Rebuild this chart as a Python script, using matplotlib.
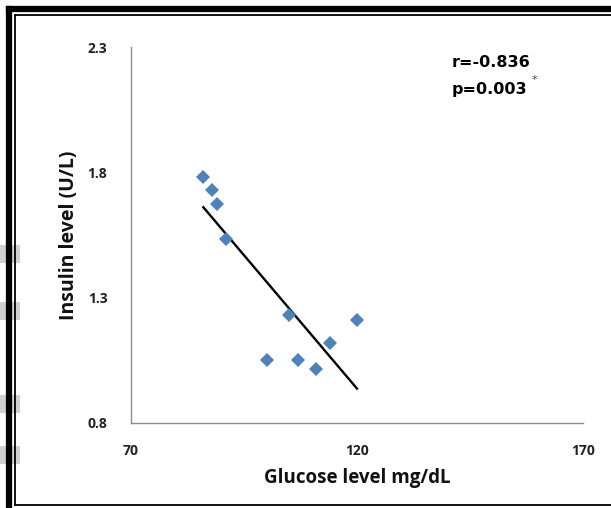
import matplotlib.pyplot as plt
import numpy as np
from matplotlib.patches import Rectangle
from matplotlib.lines import Line2D

# data
glucose = [86, 88, 89, 91, 105, 120, 114, 100, 107, 111]
insulin = [1.78, 1.73, 1.675, 1.535, 1.23, 1.21, 1.12, 1.05, 1.05, 1.015]
x_ticks = [70, 120, 170]
y_ticks = [0.8, 1.3, 1.8, 2.3]
r_text = 'r=-0.836'
p_text = 'p=0.003'

fig = plt.figure(figsize=(6.11, 5.08), dpi=100)

# faint watermark blobs at the left edge
for y0 in [245, 302, 395, 446]:
    fig.patches.append(Rectangle((0, 1 - (y0 + 18) / 508), 20 / 611, 18 / 508,
                                 transform=fig.transFigure, color='#d0d0d0', lw=0))

# frame: thick outer line + thin inner line
fig.add_artist(Line2D([9 / 611, 9 / 611], [0, 1 - 9 / 508], color='black', lw=4.5,
                      transform=fig.transFigure, solid_capstyle='projecting'))
fig.add_artist(Line2D([9 / 611, 1], [1 - 9 / 508, 1 - 9 / 508], color='black', lw=4.5,
                      transform=fig.transFigure, solid_capstyle='projecting'))
fig.add_artist(Line2D([15 / 611, 15 / 611], [3 / 508, 1 - 15 / 508], color='black', lw=1.3,
                      transform=fig.transFigure))
fig.add_artist(Line2D([15 / 611, 1], [1 - 15 / 508, 1 - 15 / 508], color='black', lw=1.3,
                      transform=fig.transFigure))
fig.add_artist(Line2D([15 / 611, 1], [3 / 508, 3 / 508], color='black', lw=1.3,
                      transform=fig.transFigure))

ax = fig.add_axes([131 / 611, 1 - 423 / 508, 452 / 611, 376 / 508])

ax.plot(glucose, insulin, 'D', color='#4F81BD', markersize=7, markeredgewidth=0, zorder=3)

# linear trend line over the data range
slope, intercept = np.polyfit(glucose, insulin, 1)
xs = np.array([min(glucose), max(glucose)])
ax.plot(xs, slope * xs + intercept, color='black', lw=1.7, zorder=2)

ax.set_xlim(70, 170)
ax.set_ylim(0.8, 2.3)
ax.set_xticks(x_ticks)
ax.set_yticks(y_ticks)
ax.set_yticklabels(['%.1f' % v for v in y_ticks])
ax.tick_params(length=0, labelsize=10, colors='#222222')
ax.tick_params(axis='y', pad=17)
ax.tick_params(axis='x', pad=15)
for lab in ax.get_xticklabels() + ax.get_yticklabels():
    lab.set_fontfamily('Open Sans')
    lab.set_fontweight('bold')

for side in ['top', 'right']:
    ax.spines[side].set_visible(False)
for side in ['left', 'bottom']:
    ax.spines[side].set_color('#8c8c8c')
    ax.spines[side].set_linewidth(1.0)

ax.set_xlabel('Glucose level mg/dL', fontfamily='Open Sans', fontweight='bold',
              fontsize=13.5, color='#111111', labelpad=7)
ax.set_ylabel('Insulin level (U/L)', fontfamily='Open Sans', fontweight='bold',
              fontsize=14, color='#111111', labelpad=6)

ax.text(0.71, 0.96, r_text, transform=ax.transAxes, fontsize=11.5,
        fontweight='bold', fontfamily='DejaVu Sans', va='center')
ax.text(0.71, 0.888, p_text, transform=ax.transAxes, fontsize=11.5,
        fontweight='bold', fontfamily='DejaVu Sans', va='center')
ax.text(0.887, 0.912, '*', transform=ax.transAxes, fontsize=8,
        fontfamily='DejaVu Sans', color='#444444', va='center')

plt.savefig('out.png', dpi=100)
